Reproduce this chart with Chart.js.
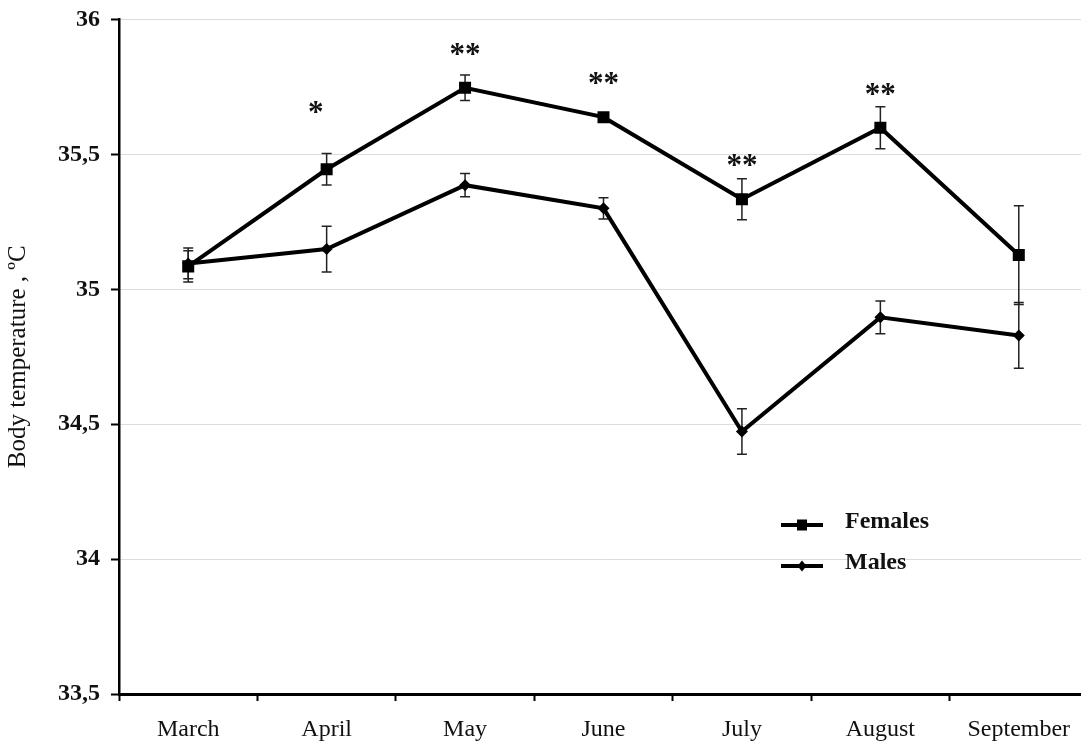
<!DOCTYPE html>
<html>
<head>
<meta charset="utf-8">
<script src="https://cdn.jsdelivr.net/npm/chart.js@4/dist/chart.umd.min.js"></script>
<style>
  html, body { margin: 0; padding: 0; background: #fff; overflow: hidden; }
  #wrap { width: 1081px; height: 742px; overflow: hidden; }
  canvas { display: block; }
</style>
</head>
<body>
<div id="wrap"><canvas id="c" width="1100" height="742" style="width:1100px;height:742px"></canvas></div>
<script>
// Monthly body temperature (ºC), mean ± error
const months = ['March', 'April', 'May', 'June', 'July', 'August', 'September'];
const females = [35.085, 35.445, 35.747, 35.638, 35.334, 35.599, 35.127];
const femalesErr = [0.058, 0.058, 0.047, 0.012, 0.076, 0.078, 0.183];
const males = [35.096, 35.149, 35.386, 35.300, 34.473, 34.896, 34.829];
const malesErr = [0.057, 0.085, 0.043, 0.039, 0.084, 0.061, 0.122];
// significance marks between sexes, and the level they are written at
const signif = ['', '*', '**', '**', '**', '**', ''];
const signifLevel = [null, 35.676, 35.891, 35.785, 35.480, 35.743, null];
const yTicks = [33.5, 34, 34.5, 35, 35.5, 36];

const SERIF = '"Liberation Serif", "Times New Roman", serif';
const INK = '#111';

const errorBars = {
  id: 'errorBars',
  beforeDatasetsDraw(chart) {
    const ctx = chart.ctx;
    const y = chart.scales.y;
    const errs = [femalesErr, malesErr];
    ctx.save();
    ctx.strokeStyle = '#222';
    ctx.lineWidth = 1.5;
    chart.data.datasets.forEach((ds, di) => {
      const meta = chart.getDatasetMeta(di);
      meta.data.forEach((pt, i) => {
        const v = ds.data[i], e = errs[di][i];
        const yt = y.getPixelForValue(v + e), yb = y.getPixelForValue(v - e);
        const x = pt.x, cap = 5;
        ctx.beginPath();
        ctx.moveTo(x, yt); ctx.lineTo(x, yb);
        ctx.moveTo(x - cap, yt); ctx.lineTo(x + cap, yt);
        ctx.moveTo(x - cap, yb); ctx.lineTo(x + cap, yb);
        ctx.stroke();
      });
    });
    ctx.restore();
  }
};

const marksAndKey = {
  id: 'marksAndKey',
  afterDraw(chart) {
    const ctx = chart.ctx;
    const x = chart.scales.x, y = chart.scales.y;
    ctx.save();
    // significance asterisks (the single one sits a little left of its month)
    ctx.fillStyle = INK;
    ctx.font = 'bold 31px ' + SERIF;
    ctx.textAlign = 'center';
    ctx.textBaseline = 'middle';
    signif.forEach((s, i) => {
      if (!s) return;
      const px = x.getPixelForValue(i) - (s.length === 1 ? 11 : 0);
      const py = y.getPixelForValue(signifLevel[i]);
      ctx.fillText(s, px, py + 7);
    });
    // key
    const area = chart.chartArea;
    const kx = area.left + 662, ky = [525, 566];
    const names = ['Females', 'Males'];
    ctx.strokeStyle = '#000';
    ctx.lineWidth = 4;
    names.forEach((n, k) => {
      ctx.beginPath();
      ctx.moveTo(kx, ky[k]); ctx.lineTo(kx + 42, ky[k]);
      ctx.stroke();
      ctx.fillStyle = '#000';
      const cx = kx + 21, cy = ky[k];
      if (k === 0) {
        ctx.fillRect(cx - 5, cy - 5.5, 10, 11);
      } else {
        ctx.beginPath();
        ctx.moveTo(cx, cy - 5.5); ctx.lineTo(cx + 4.5, cy);
        ctx.lineTo(cx, cy + 5.5); ctx.lineTo(cx - 4.5, cy);
        ctx.closePath(); ctx.fill();
      }
      ctx.fillStyle = INK;
      ctx.font = 'bold 24px ' + SERIF;
      ctx.textAlign = 'left';
      ctx.textBaseline = 'alphabetic';
      ctx.fillText(n, kx + 64, ky[k] + 3);
    });
    ctx.restore();
  }
};

new Chart(document.getElementById('c'), {
  type: 'line',
  data: {
    labels: months,
    datasets: [
      {
        label: 'Females',
        data: females,
        borderColor: '#000',
        backgroundColor: '#000',
        borderWidth: 4,
        pointStyle: 'rect',
        pointRadius: 8.5,
        pointBorderWidth: 0,
        tension: 0
      },
      {
        label: 'Males',
        data: males,
        borderColor: '#000',
        backgroundColor: '#000',
        borderWidth: 4,
        pointStyle: 'rectRot',
        pointRadius: 6,
        pointBorderWidth: 0,
        tension: 0
      }
    ]
  },
  options: {
    responsive: false,
    animation: false,
    devicePixelRatio: 1,
    layout: { padding: { top: 19.5, right: 12, bottom: 0, left: 0 } },
    plugins: { legend: { display: false }, tooltip: { enabled: false } },
    scales: {
      x: {
        type: 'category',
        offset: true,
        grid: {
          offset: true,
          drawOnChartArea: false,
          drawTicks: true,
          tickLength: 7,
          tickWidth: 2,
          tickColor: '#000'
        },
        border: { display: true, color: '#000', width: 3 },
        ticks: {
          color: INK,
          font: { family: SERIF, size: 24 },
          padding: 14,
          maxRotation: 0,
          autoSkip: false
        },
        afterFit(scale) { scale.height = 48; }
      },
      y: {
        min: 33.5,
        max: 36,
        afterBuildTicks(scale) { scale.ticks = yTicks.map(v => ({ value: v })); },
        grid: {
          color: '#dcdcdc',
          lineWidth: 1,
          drawTicks: true,
          tickLength: 8,
          tickWidth: 2,
          tickColor: '#000'
        },
        border: { display: true, color: '#000', width: 2.5 },
        ticks: {
          color: INK,
          font: { family: SERIF, size: 24, weight: 'bold' },
          padding: 11,
          callback: v => String(v).replace('.', ',')
        },
        title: {
          display: true,
          text: 'Body temperature , ºC',
          color: INK,
          font: { family: SERIF, size: 25 },
          padding: { top: 3, bottom: 0 }
        },
        afterFit(scale) {
          scale.width = 119;
          scale.paddingTop = 0;
          scale.paddingBottom = 0;
        }
      }
    }
  },
  plugins: [errorBars, marksAndKey]
});
</script>
</body>
</html>
